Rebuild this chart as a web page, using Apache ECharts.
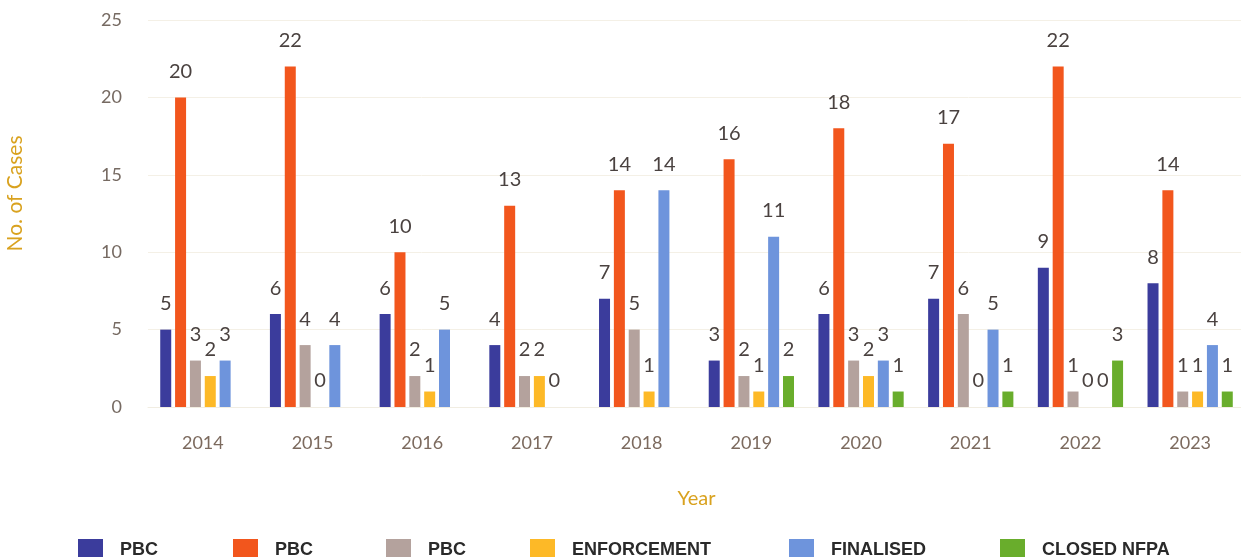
<!DOCTYPE html>
<html>
<head>
<meta charset="utf-8">
<title>No. of Cases by Year</title>
<script src="https://cdn.jsdelivr.net/npm/echarts@6/dist/echarts.min.js"></script>
<style>
html, body { margin: 0; padding: 0; background: #fff; }
#chart { width: 1241px; height: 557px; }
</style>
</head>
<body>
<div id="chart"></div>
<script>
// data
var years = ['2014', '2015', '2016', '2017', '2018', '2019', '2020', '2021', '2022', '2023'];
var pbcA       = [5, 6, 6, 4, 7, 3, 6, 7, 9, 8];
var pbcB       = [20, 22, 10, 13, 14, 16, 18, 17, 22, 14];
var pbcC       = [3, 4, 2, 2, 5, 2, 3, 6, 1, 1];
var enforcement = [2, 0, 1, 2, 1, 1, 2, 0, 0, 1];
var finalised  = [3, 4, 5, 0, 14, 11, 3, 5, 0, 4];
var closedNfpa = [null, null, null, null, null, 2, 1, 1, 3, 1];
var yTicks = [0, 5, 10, 15, 20, 25];

var seriesKeys  = ['pbc1', 'pbc2', 'pbc3', 'enf', 'fin', 'nfpa'];
var seriesNames = ['PBC', 'PBC', 'PBC', 'ENFORCEMENT', 'FINALISED', 'CLOSED NFPA'];
var seriesData  = [pbcA, pbcB, pbcC, enforcement, finalised, closedNfpa];
var colors = ['#3b3c9c', '#f2561d', '#b4a29d', '#fdb927', '#6e94dc', '#69ad2c'];
var legendLeft = [73, 228, 381, 525, 784, 995];

var chart = echarts.init(document.getElementById('chart'));

var series = [];
var legends = [];
for (var i = 0; i < seriesKeys.length; i++) {
  series.push({
    name: seriesKeys[i],
    type: 'bar',
    data: seriesData[i],
    barWidth: 11,
    barGap: '35%',
    itemStyle: { color: colors[i] },
    label: {
      show: true,
      position: 'top',
      distance: 16,
      fontFamily: 'Lato',
      fontSize: 20,
      color: '#4a4240'
    }
  });
  legends.push({
    data: [seriesKeys[i]],
    left: legendLeft[i],
    top: 534,
    itemWidth: 25,
    itemHeight: 22,
    icon: 'rect',
    formatter: (function (n) { return function () { return n; }; })(seriesNames[i]),
    textStyle: {
      fontFamily: 'Liberation Sans',
      fontWeight: 'bold',
      fontSize: 18,
      color: '#2a2a2a',
      padding: [0, 0, 0, 12]
    }
  });
}

chart.setOption({
  animation: false,
  grid: { left: 148, top: 20, width: 1097, height: 387, outerBoundsMode: 'none' },
  legend: legends,
  xAxis: {
    type: 'category',
    data: years,
    name: 'Year',
    nameLocation: 'middle',
    nameGap: 82,
    nameTextStyle: { fontFamily: 'Lato', fontSize: 20, color: '#d9a21f' },
    axisLine: { lineStyle: { color: '#f1ede2' } },
    axisTick: { show: false },
    axisLabel: { margin: 27, fontFamily: 'Lato', fontSize: 18, color: '#7c6a5e' }
  },
  yAxis: {
    type: 'value',
    min: yTicks[0],
    max: yTicks[yTicks.length - 1],
    interval: 5,
    name: 'No. of Cases',
    nameLocation: 'middle',
    nameGap: 122,
    nameTextStyle: { fontFamily: 'Lato', fontSize: 21, color: '#d9a21f', padding: [0, 0, 0, 40] },
    splitLine: { lineStyle: { color: '#f4f0e6' } },
    axisLabel: { margin: 26, fontFamily: 'Lato', fontSize: 18, color: '#766a62' }
  },
  series: series
});
</script>
</body>
</html>
